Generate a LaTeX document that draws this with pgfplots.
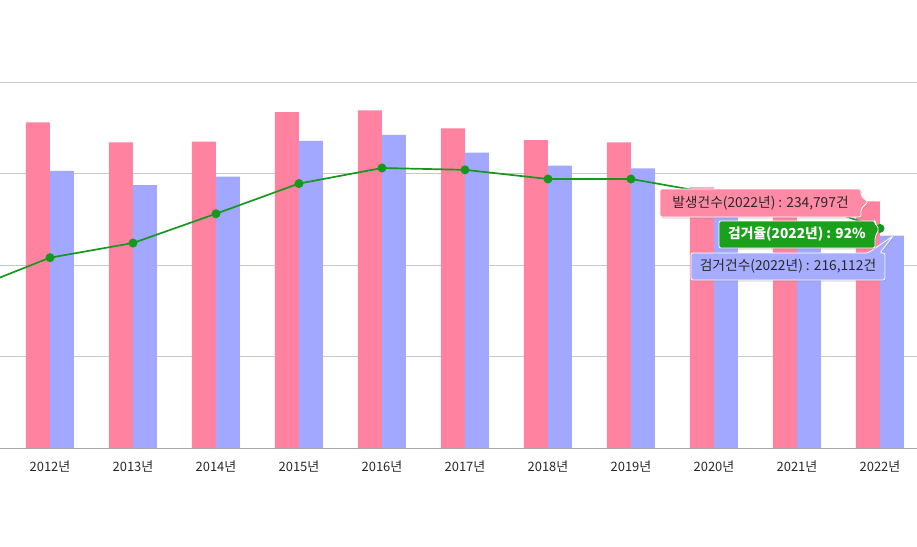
\documentclass[border=0pt]{standalone}
\usepackage{pgfplots}
\pgfplotsset{compat=1.18}
\usepackage{fontspec}
\setmainfont{Noto Sans CJK KR}
\usetikzlibrary{shadows}
\definecolor{barpink}{RGB}{255,130,160}
\definecolor{barblue}{RGB}{162,168,255}
\definecolor{linegreen}{RGB}{22,152,30}
\definecolor{tipgreen}{RGB}{26,160,26}
\definecolor{tippink}{RGB}{255,138,166}
\definecolor{tipblue}{RGB}{166,172,255}
\definecolor{gridgray}{RGB}{200,200,200}
\definecolor{textgray}{RGB}{40,40,40}
\begin{document}
\begin{tikzpicture}
\begin{axis}[name=bars, scale only axis,
  width=917bp, height=366bp,
  xmin=-0.602, xmax=10.446, ymin=100000, ymax=300000,
  ybar=0pt, bar width=24bp,
  axis x line*=bottom, axis y line*=left,
  y axis line style={draw=none},
  x axis line style={draw=gridgray!85!black, line width=0.8bp},
  ytick={100000,150000,200000,250000,300000},
  yticklabels={,,,,,},
  scaled y ticks=false,
  ymajorgrids, grid style={gridgray, line width=0.8bp},
  major tick length=0pt,
  xtick={0,1,2,3,4,5,6,7,8,9,10},
  xticklabels={2012년,2013년,2014년,2015년,2016년,2017년,2018년,2019년,2020년,2021년,2022년},
  xticklabel style={font=\fontsize{13}{15}\selectfont, text=textgray, yshift=-9.5bp},
]
\addplot[fill=barpink, draw=none] coordinates {
(0,277980) (1,267050) (2,267400) (3,283600) (4,284500) (5,274700)
(6,268300) (7,267050) (8,242400) (9,231000) (10,234797)};
\addplot[fill=barblue, draw=none] coordinates {
(0,251400) (1,243700) (2,248250) (3,267760) (4,271040) (5,261370)
(6,254260) (7,252840) (8,227800) (9,216700) (10,216112)};
\end{axis}
\begin{axis}[at={(bars.south west)}, anchor=south west, scale only axis,
  width=917bp, height=366bp,
  xmin=-0.602, xmax=10.446, ymin=80, ymax=100, hide axis]
\addplot[linegreen, line width=1.7bp, mark=*, mark size=3.6bp,
  mark options={fill=linegreen, draw=linegreen}] coordinates {
(-1,88.6) (0,90.4) (1,91.2) (2,92.8) (3,94.45) (4,95.3) (5,95.2)
(6,94.7) (7,94.7) (8,93.9) (9,93.6) (10,92.0)};
\end{axis}
% tooltips, in pixel coordinates of the 917x547 picture (origin lower left)
\begin{scope}[shift={(bars.south west)}, yshift=-99bp, x=1bp, y=1bp,
  font=\fontsize{13.8}{16}\selectfont]
% pink
\filldraw[fill=tippink, draw=white, line width=0.8bp, rounded corners=2bp,
  drop shadow={opacity=0.25, shadow xshift=1bp, shadow yshift=-1.5bp}]
  (660,358) -- (861,358) -- (861,351) -- (868,345) -- (861,338) -- (861,330) -- (660,330) -- cycle;
\node[text=textgray, anchor=center] at (760.5,344) {발생건수(2022년) : 234,797건};
% blue
\filldraw[fill=tipblue, draw=white, line width=0.8bp, rounded corners=2bp,
  drop shadow={opacity=0.25, shadow xshift=1bp, shadow yshift=-1.5bp}]
  (691,294) -- (868,294) -- (893,311) -- (880,294) -- (885,294) -- (885,267) -- (691,267) -- cycle;
\node[text=textgray, anchor=center] at (788,280.5) {검거건수(2022년) : 216,112건};
% green
\filldraw[fill=tipgreen, draw=white, line width=0.8bp, rounded corners=2bp,
  drop shadow={opacity=0.25, shadow xshift=1bp, shadow yshift=-1.5bp}]
  (719,326) -- (875,326) -- (875,324) -- (879,318) -- (875,310) -- (875,299) -- (719,299) -- cycle;
\node[text=white, anchor=center, font=\fontsize{13.8}{16}\selectfont\bfseries] at (797,312.5) {검거율(2022년) : 92\%};
\end{scope}
\pgfresetboundingbox
\path[use as bounding box] (bars.south west) ++(0,-99bp) rectangle ++(917bp,547bp);
\end{tikzpicture}
\end{document}
